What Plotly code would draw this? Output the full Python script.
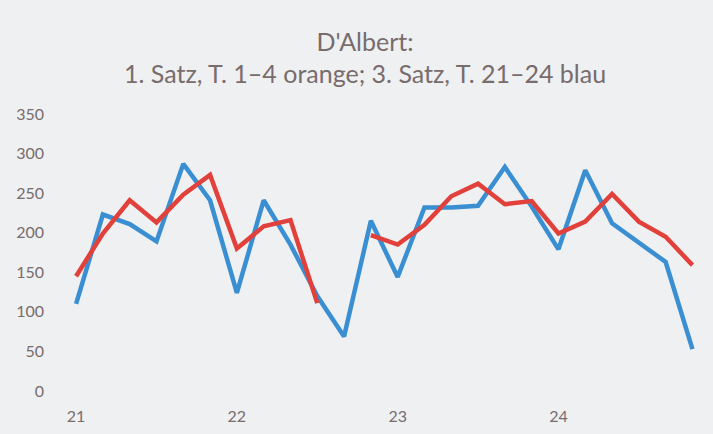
import plotly.graph_objects as go

# positions: measures 21-24, six eighth-notes per measure
measures = [21, 22, 23, 24]
steps_per_measure = 6
n_points = 24
x_vals = [measures[0] + k / steps_per_measure for k in range(n_points)]

# 3. Satz, T. 21-24 (blau)
blue_vals = [110, 223, 211, 189, 287, 241, 124, 241, 185, 120, 69, 215,
             144, 232, 232, 234, 283, 233, 179, 279, 212, 187, 163, 53]
# 1. Satz, T. 1-4 (orange/rot)
red_vals = [145, 199, 241, 213, 248, 273, 180, 208, 216, 111, None, 197,
            185, 210, 246, 262, 236, 240, 199, 214, 249, 214, 195, 159]

y_ticks = [0, 50, 100, 150, 200, 250, 300, 350]
x_ticks = measures
x_tick_labels = ["21", "22", "23", "24"]

title_text = "D'Albert:<br>1. Satz, T. 1–4 orange; 3. Satz, T. 21–24 blau"

bg = "#eef0f2"
fig = go.Figure()
fig.add_trace(go.Scatter(x=x_vals, y=blue_vals, mode="lines",
                         line=dict(color="#3a8fd2", width=4.5),
                         showlegend=False, connectgaps=False))
fig.add_trace(go.Scatter(x=x_vals, y=red_vals, mode="lines",
                         line=dict(color="#e2403b", width=4.5),
                         showlegend=False, connectgaps=False))

txt_color = "#786c6c"
fig.update_layout(
    width=713, height=434,
    margin=dict(l=60, r=5, t=114, b=43),
    paper_bgcolor=bg, plot_bgcolor=bg,
    font=dict(family="Lato, Open Sans, sans-serif", color=txt_color, size=16),
    title=dict(text=title_text, x=0.512, xanchor="center", y=0.883, yanchor="top",
               font=dict(size=25, color=txt_color)),
    xaxis=dict(range=[20.9, 24.93], tickvals=x_ticks, ticktext=x_tick_labels,
               showgrid=False, zeroline=False, showline=False, ticks="",
               ticklabelstandoff=14, automargin=False),
    yaxis=dict(range=[0, 350], tickvals=y_ticks, showgrid=False, zeroline=False,
               showline=False, ticks="", ticklabelstandoff=15, automargin=False),
)

fig.write_html(
    "out.html",
    config={"displayModeBar": False},
    post_script="document.body.style.margin='0';document.body.style.background='%s';" % bg,
)
